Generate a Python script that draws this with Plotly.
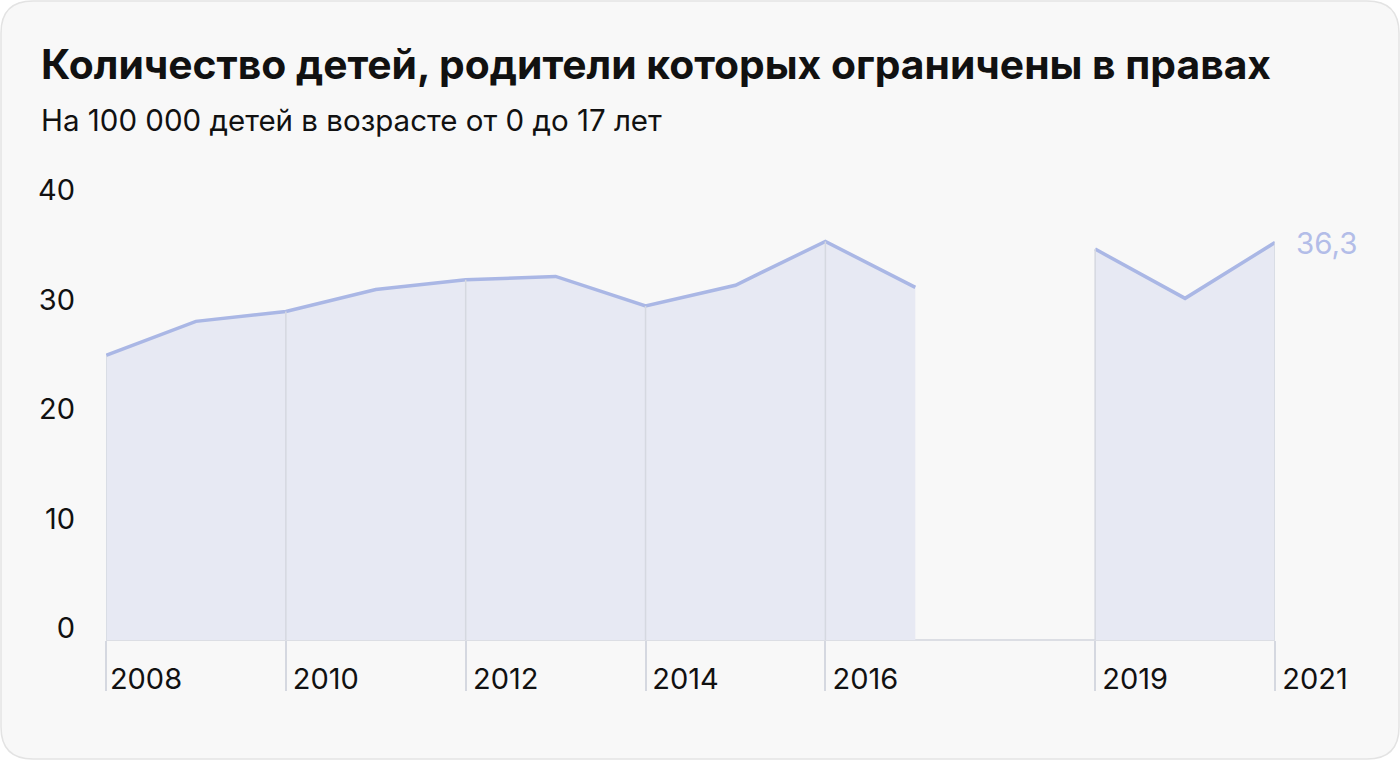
import plotly.graph_objects as go

years = [2008, 2009, 2010, 2011, 2012, 2013, 2014, 2015, 2016, 2017, 2018, 2019, 2020, 2021]
values = [26.0, 29.1, 30.0, 32.0, 32.9, 33.2, 30.5, 32.4, 36.4, 32.2, None, 35.7, 31.2, 36.3]
tick_years = [2008, 2010, 2012, 2014, 2016, 2019, 2021]
y_ticks = [0, 10, 20, 30, 40]
title = "Количество детей, родители которых ограничены в правах"
subtitle = "На 100 000 детей в возрасте от 0 до 17 лет"
last_label = "36,3"

W, H = 1400, 760
L, R, T, B = 106, 125, 202, 120
PW, PH = W - L - R, H - T - B

LINE = "#aab7e5"
FILL = "#e7e9f3"
GRID = "#d5d8e0"
FONT = "Inter"

def px(x):
    return (x - L) / PW

def py(y):
    return (H - B - y) / PH

# split series into contiguous segments (gap where value is missing)
segments = []
cur_x, cur_y = [], []
for x, v in zip(years, values):
    if v is None:
        if cur_x:
            segments.append((cur_x, cur_y))
        cur_x, cur_y = [], []
    else:
        cur_x.append(x)
        cur_y.append(v)
if cur_x:
    segments.append((cur_x, cur_y))

fig = go.Figure()
for sx, sy in segments:
    fig.add_trace(go.Scatter(
        x=sx, y=sy, mode="lines", fill="tozeroy",
        fillcolor=FILL, line=dict(color=LINE, width=3.5),
        hoverinfo="skip", showlegend=False,
    ))

# rounded card
x0, y0, x1, y1, r = 1, 1, 1399, 759, 32
path = (f"M {px(x0+r)},{py(y0)} L {px(x1-r)},{py(y0)} Q {px(x1)},{py(y0)} {px(x1)},{py(y0+r)} "
        f"L {px(x1)},{py(y1-r)} Q {px(x1)},{py(y1)} {px(x1-r)},{py(y1)} "
        f"L {px(x0+r)},{py(y1)} Q {px(x0)},{py(y1)} {px(x0)},{py(y1-r)} "
        f"L {px(x0)},{py(y0+r)} Q {px(x0)},{py(y0)} {px(x0+r)},{py(y0)} Z")
shapes = [dict(type="path", path=path, xref="paper", yref="paper",
               fillcolor="#f8f8f8", line=dict(color="#e3e3e3", width=1.5), layer="below")]

val_by_year = dict(zip(years, values))
for ty in tick_years:
    v = val_by_year[ty]
    shapes.append(dict(type="line", xref="x", yref="y", x0=ty, x1=ty, y0=0, y1=v,
                       line=dict(color=GRID, width=1.5), layer="above"))

annotations = [
    dict(text=f"<b>{title}</b>", xref="paper", yref="paper", x=px(39), y=py(64),
         xanchor="left", yanchor="middle", showarrow=False,
         font=dict(family=FONT, size=40.8, color="#111111")),
    dict(text=subtitle, xref="paper", yref="paper", x=px(39), y=py(120),
         xanchor="left", yanchor="middle", showarrow=False,
         font=dict(family=FONT, size=29.5, color="#111111")),
    dict(text=last_label, xref="x", yref="y", x=years[-1], y=values[-1],
         xanchor="left", yanchor="middle", xshift=19, showarrow=False,
         font=dict(family=FONT, size=29.5, color="#b3bde8")),
]

fig.update_layout(
    width=W, height=H,
    margin=dict(l=L, r=R, t=T, b=B),
    paper_bgcolor="#ffffff", plot_bgcolor="rgba(0,0,0,0)",
    shapes=shapes, annotations=annotations,
    xaxis=dict(range=[2008, 2021], tickvals=tick_years, ticktext=[str(t) for t in tick_years],
               showgrid=False, zeroline=False, showline=False,
               ticks="outside", ticklen=50, tickwidth=1.5, tickcolor=GRID,
               ticklabelstandoff=-37, ticklabelshift=40,
               tickfont=dict(family=FONT, size=29, color="#111111")),
    yaxis=dict(range=[0, 40], tickvals=y_ticks, ticktext=[str(t) for t in y_ticks],
               showgrid=False, zeroline=True, zerolinecolor="#dcdee4", zerolinewidth=1.5,
               showline=False, ticks="", ticklabelstandoff=30, ticklabelshift=-12,
               tickfont=dict(family=FONT, size=29, color="#111111")),
)

fig.write_html("out.html")
